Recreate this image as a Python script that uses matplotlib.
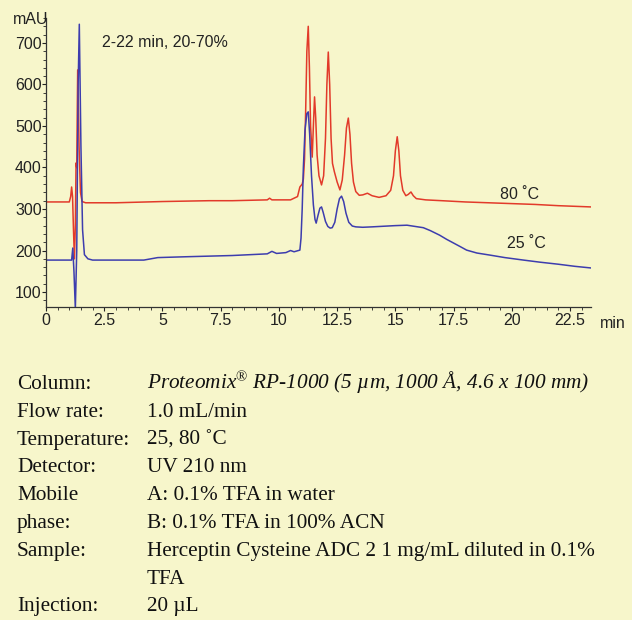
import matplotlib
matplotlib.use('Agg')
import matplotlib.pyplot as plt
from matplotlib.ticker import MultipleLocator

# 80 C trace (red)
red_t = [0, 1.0, 1.06, 1.1, 1.14, 1.18, 1.22, 1.26, 1.29, 1.32, 1.36, 1.42, 1.48, 1.55, 1.7, 3, 5, 7, 8,
         9.5, 9.6, 9.7, 10.5, 10.8, 10.9, 11.0, 11.05, 11.1, 11.15, 11.2, 11.26, 11.31, 11.36, 11.43, 11.48,
         11.53, 11.58, 11.64, 11.72, 11.83, 11.92, 12.0, 12.06, 12.12, 12.18, 12.24, 12.3, 12.38, 12.5, 12.62,
         12.72, 12.82, 12.9, 12.98, 13.05, 13.12, 13.2, 13.3, 13.45, 13.6, 13.8, 14.0, 14.3, 14.6, 14.8,
         14.92, 15.0, 15.08, 15.15, 15.22, 15.32, 15.45, 15.55, 15.67, 15.77, 15.9, 16.3, 17, 18, 19, 20,
         21, 22, 23.4]
red_v = [317, 317, 330, 353, 330, 250, 180, 260, 411, 400, 635, 450, 340, 318, 315, 315, 318, 320, 320,
         322, 326, 322, 322, 330, 353, 360, 372, 420, 540, 680, 740, 640, 500, 425, 500,
         570, 520, 430, 380, 358, 380, 470, 600, 678, 600, 470, 410, 390, 365, 346,
         370, 430, 495, 519, 480, 410, 365, 342, 333, 334, 338, 332, 328, 332, 345,
         380, 440, 474, 440, 380, 345, 332, 335, 341, 332, 325, 322, 320, 317, 315, 313,
         311, 308, 305]

# 25 C trace (blue)
blue_t = [0, 1.1, 1.15, 1.2, 1.26, 1.32, 1.38, 1.43, 1.5, 1.57, 1.65, 1.8, 2.0, 4.2, 4.5, 4.8, 6, 8, 9.5,
          9.7, 9.9, 10.3, 10.5, 10.65, 10.9, 10.95, 11.0, 11.05, 11.12, 11.2, 11.26, 11.32, 11.4, 11.48,
          11.55, 11.6, 11.68, 11.76, 11.83, 11.9, 12.0, 12.1, 12.2, 12.29, 12.4, 12.5, 12.6, 12.69, 12.78,
          12.88, 13.0, 13.15, 13.3, 13.6, 14, 15, 15.5, 16.2, 16.5, 16.9, 17.2, 17.5, 17.8, 18.06, 18.5,
          19.06, 19.7, 20.5, 21.2, 22, 22.7, 23.4]
blue_v = [177, 177, 206, 150, 60, 200, 600, 745, 450, 250, 190, 180, 177, 177, 180, 183, 185, 188, 192,
          198, 193, 195, 200, 197, 201, 230, 300, 400, 490, 530, 534, 480, 380, 310,
          275, 266, 285, 302, 305, 292, 270, 258, 254, 255, 268, 300, 325, 331, 318,
          290, 268, 259, 257, 256, 257, 260, 261, 255, 248, 237, 227, 218, 209, 201, 194,
          189, 183, 177, 172, 167, 162, 158]

x_ticks = [0, 2.5, 5, 7.5, 10, 12.5, 15, 17.5, 20, 22.5]
x_labels = ['0', '2.5', '5', '7.5', '10', '12.5', '15', '17.5', '20', '22.5']
y_ticks = [100, 200, 300, 400, 500, 600, 700]

cond_keys = ['Column:', 'Flow rate:', 'Temperature:', 'Detector:', 'Mobile', 'phase:', 'Sample:', '', 'Injection:']
cond_vals = ['Proteomix$^{\u00ae}$ RP-1000 (5 \u00b5m, 1000 \u00c5, 4.6 x 100 mm)', '1.0 mL/min', '25, 80 \u02daC',
             'UV 210 nm', 'A: 0.1% TFA in water', 'B: 0.1% TFA in 100% ACN',
             'Herceptin Cysteine ADC 2 1 mg/mL diluted in 0.1%', 'TFA', '20 \u00b5L']

bg = '#F7F6CB'
plt.rcParams['font.family'] = ['Liberation Sans', 'DejaVu Sans']
plt.rcParams['mathtext.fontset'] = 'custom'
plt.rcParams['mathtext.rm'] = 'Liberation Serif'
plt.rcParams['mathtext.it'] = 'Liberation Serif:italic'

W, H = 632, 620
fig = plt.figure(figsize=(W / 100, H / 100), dpi=100, facecolor=bg)
ax = fig.add_axes([46 / W, 1 - 307 / H, (591 - 46) / W, (307 - 18) / H])
ax.set_facecolor(bg)

ax.plot(red_t, red_v, color='#E23A2A', lw=1.1)
ax.plot(blue_t, blue_v, color='#3D3DAE', lw=1.1)

ax.set_xlim(0, 23.4)
ax.set_ylim(64, 760)
ax.set_xticks(x_ticks)
ax.set_xticklabels(x_labels)
ax.set_yticks(y_ticks)
ax.xaxis.set_minor_locator(MultipleLocator(0.5))
ax.yaxis.set_minor_locator(MultipleLocator(20))
ax.tick_params(which='major', length=3, width=0.8, labelsize=11.5, colors='#222222', pad=1)
ax.tick_params(axis='y', which='major', pad=0)
ax.tick_params(which='minor', length=2, width=0.6, colors='#222222')
for s in ['top', 'right']:
    ax.spines[s].set_visible(False)
for s in ['left', 'bottom']:
    ax.spines[s].set_color('#333333')
    ax.spines[s].set_linewidth(0.9)

ax.text(2.4, 700, '2-22 min, 20-70%', fontsize=11.5, color='#222222', va='center')
ax.text(19.5, 334, '80 \u02daC', fontsize=11.5, color='#222222', va='center')
ax.text(19.8, 218, '25 \u02daC', fontsize=11.5, color='#222222', va='center')
fig.text(48 / W, 1 - 20 / H, 'mAU', fontsize=11.5, color='#222222', ha='right', va='center')
fig.text(600 / W, 1 - 323 / H, 'min', fontsize=11.5, color='#222222', ha='left', va='center')

# conditions table under the chart
serif = ['Liberation Serif', 'DejaVu Serif']
for i, (k, v) in enumerate(zip(cond_keys, cond_vals)):
    yb = 1 - (389 + i * 27.8) / H
    fig.text(17 / W, yb, k, fontsize=15.3, family=serif, color='#111111', va='baseline')
    fig.text(147 / W, yb, v, fontsize=15.3, family=serif, color='#111111', va='baseline',
             style='italic' if i == 0 else 'normal')

fig.savefig('out.png', dpi=100, facecolor=bg)
